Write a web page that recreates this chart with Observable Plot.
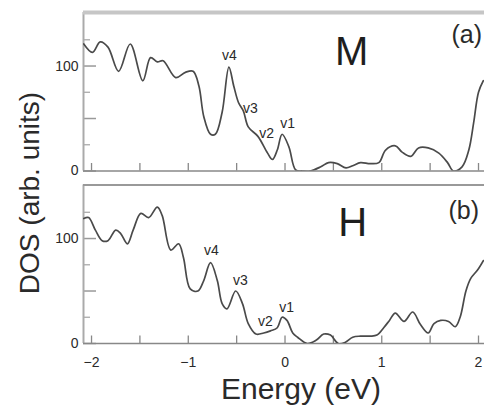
<!DOCTYPE html>
<html><head><meta charset="utf-8">
<script src="https://cdn.jsdelivr.net/npm/d3@7"></script>
<script src="https://cdn.jsdelivr.net/npm/@observablehq/plot@0.6"></script>
<style>
html,body{margin:0;padding:0;background:#fff;}
#chart{width:484px;height:405px;overflow:hidden;}
</style></head><body><div id="chart"></div>
<script>
const panels = ["M", "H"];
const energyM = [-2.08,-1.99,-1.91,-1.83,-1.72,-1.60,-1.47,-1.39,-1.32,-1.26,-1.13,-1.03,-0.95,-0.89,-0.84,-0.77,-0.72,-0.65,-0.58,-0.53,-0.48,-0.43,-0.38,-0.28,-0.18,-0.13,-0.08,-0.03,0.04,0.11,0.18,0.26,0.37,0.45,0.54,0.63,0.70,0.78,0.88,0.97,1.04,1.14,1.21,1.30,1.38,1.48,1.59,1.68,1.74,1.83,1.90,1.95,2.00,2.05];
const dosM = [121,113,123,118,95,121,86,108,104,105,89,94,95,81,52,35,35,56,99,81,65,57,42,33,17,11,20,35,23,1,0,0,4,8,7,3,5,8,7,8,20,24,18,14,22,22,17,8,0,4,20,46,75,86];
const energyH = [-2.08,-2.03,-1.96,-1.89,-1.83,-1.75,-1.70,-1.63,-1.57,-1.49,-1.41,-1.32,-1.27,-1.18,-1.10,-1.05,-0.98,-0.90,-0.84,-0.77,-0.70,-0.65,-0.60,-0.51,-0.44,-0.38,-0.30,-0.22,-0.15,-0.08,-0.03,0.02,0.08,0.13,0.23,0.32,0.40,0.47,0.55,0.62,0.70,0.78,0.88,0.95,1.02,1.08,1.14,1.23,1.32,1.40,1.48,1.54,1.61,1.69,1.76,1.81,1.87,1.92,1.99,2.05];
const dosH = [119,120,108,98,98,108,105,95,108,124,120,130,122,89,95,82,52,50,60,77,60,38,33,50,38,19,9,10,12,15,25,22,10,6,0,3,9,8,0,1,6,7,7,8,15,22,29,21,30,18,10,19,22,21,16,25,50,62,70,79];

const xTicks = [-2,-1.5,-1,-0.5,0,0.5,1,1.5,2];
const xTickLabels = [-2,-1,0,1,2];
const yMajorTicks = [0,50,100];
const yMinorTicks = [25,75,125];
const yTickLabels = [0,100];

const peakNames = ["v4","v3","v2","v1"];
const peakEnergyM = [-0.574,-0.357,-0.191,0.026];
const peakDosM = [110,60,36,45];
const peakEnergyH = [-0.760,-0.460,-0.202,0.016];
const peakDosH = [89,60,21,34];

const panelTitleEnergy = [0.69, 0.70];
const panelTitleDos = [113, 115];
const panelTags = ["(a)", "(b)"];
const panelTagEnergy = [1.72, 1.69];
const panelTagDos = [130, 126];

const xDomain = [-2.083, 2.062];
const yDomain = [0, 151];

const curve = [
  ...energyM.map((e, i) => ({panel: "M", e, d: dosM[i]})),
  ...energyH.map((e, i) => ({panel: "H", e, d: dosH[i]}))
];
const peaks = [
  ...peakNames.map((n, i) => ({panel: "M", n, e: peakEnergyM[i], d: peakDosM[i]})),
  ...peakNames.map((n, i) => ({panel: "H", n, e: peakEnergyH[i], d: peakDosH[i]}))
];
const titles = panels.map((p, i) => ({panel: p, t: p, e: panelTitleEnergy[i], d: panelTitleDos[i]}));
const tags = panels.map((p, i) => ({panel: p, t: panelTags[i], e: panelTagEnergy[i], d: panelTagDos[i]}));

const W = 484, H = 405, ML = 83, MR = 0, MT = 12, MB = 62;
const plotW = W - ML - MR;

const chart = Plot.plot({
  width: W, height: H,
  marginLeft: ML, marginRight: MR, marginTop: MT, marginBottom: MB,
  style: {fontFamily: "'Liberation Sans', Arial, sans-serif", background: "#fff", color: "#333"},
  x: {domain: xDomain},
  y: {domain: yDomain},
  fy: {domain: panels, axis: null, paddingInner: 0.0812, paddingOuter: 0, round: false},
  marks: [
    Plot.tickX(xTicks, {x: d => d, stroke: "#888", strokeWidth: 1.3, insetTop: 151}),
    Plot.tickY(yMajorTicks, {y: d => d, stroke: "#999", strokeWidth: 1.5, insetRight: plotW - 13}),
    Plot.tickY(yMinorTicks, {y: d => d, stroke: "#aaa", strokeWidth: 1.3, insetRight: plotW - 7}),
    Plot.ruleX([xDomain[0]], {stroke: "#aaa", strokeWidth: 2}),
    Plot.ruleY([0], {stroke: "#888", strokeWidth: 1.6}),
    Plot.ruleY([{panel: "M"}], {y: () => yDomain[1], fy: "panel", stroke: "#c6c6c6", strokeWidth: 4}),
    Plot.ruleY([{panel: "H"}], {y: () => yDomain[1], fy: "panel", stroke: "#999", strokeWidth: 2}),
    Plot.line(curve, {x: "e", y: "d", fy: "panel", stroke: "#4a4a4a", strokeWidth: 1.7, curve: "catmull-rom", clip: true}),
    Plot.text(peaks, {x: "e", y: "d", fy: "panel", text: "n", fontSize: 14, fill: "#2a2a2a"}),
    Plot.text(titles, {x: "e", y: "d", fy: "panel", text: "t", fontSize: 40, fill: "#1e1e1e"}),
    Plot.text(tags, {x: "e", y: "d", fy: "panel", text: "t", fontSize: 25, textAnchor: "start", fill: "#2a2a2a"}),
    Plot.axisY(yTickLabels, {tickSize: 0, tickPadding: 5, fontSize: 14, label: null, fill: "#2a2a2a"}),
    Plot.axisX(xTickLabels, {tickSize: 0, tickPadding: 14, fontSize: 14, label: null, fill: "#2a2a2a", tickFormat: d => d < 0 ? "\u2212" + Math.abs(d) : String(d)})
  ]
});

const svg = d3.select(chart);
svg.append("text")
  .attr("transform", "translate(29,193) rotate(-90)")
  .attr("text-anchor", "middle")
  .attr("dy", "0.36em")
  .style("font-size", "28px")
  .attr("fill", "#2a2a2a")
  .text("DOS (arb. units)");
svg.append("text")
  .attr("x", 301).attr("y", 399)
  .attr("text-anchor", "middle")
  .style("font-size", "30px")
  .attr("fill", "#2a2a2a")
  .text("Energy (eV)");

document.getElementById("chart").appendChild(chart);
</script></body></html>
